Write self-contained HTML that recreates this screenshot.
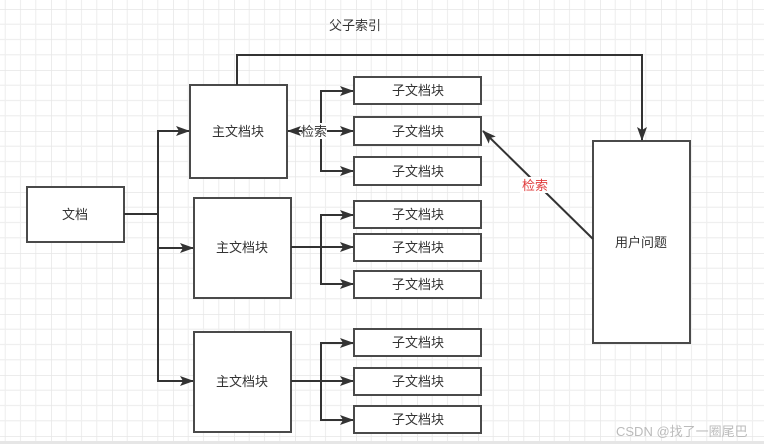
<!DOCTYPE html>
<html><head><meta charset="utf-8"><style>
html,body{margin:0;padding:0;background:#fff;}
svg{display:block;}
text{font-family:"Liberation Sans","Noto Sans CJK SC",sans-serif;font-size:13px;fill:#333;}
</style></head><body>
<svg width="764" height="444" viewBox="0 0 764 444" xmlns="http://www.w3.org/2000/svg">
<defs>
<pattern id="g" x="51" y="9" width="61" height="61" patternUnits="userSpaceOnUse">
<path d="M15.25 0V61M30.5 0V61M45.75 0V61M0 15.25H61M0 30.5H61M0 45.75H61" stroke="#efefef" stroke-width="1.2" fill="none"/>
<path d="M0 0V61M0 0H61" stroke="#e6e6e6" stroke-width="1.5" fill="none"/>
</pattern>
<marker id="a" markerWidth="14" markerHeight="10" refX="13" refY="5" orient="auto" markerUnits="userSpaceOnUse">
<path d="M0 0L14 5L0 10L3 5Z" fill="#333"/>
</marker>
</defs>
<rect width="764" height="444" fill="url(#g)"/>
<rect x="0" y="441" width="764" height="3" fill="#e6e6e6"/>
<g fill="#fff" stroke="#4a4a4a" stroke-width="2">
<rect x="27" y="187" width="97" height="55"/>
<rect x="190" y="85" width="97" height="93"/>
<rect x="194" y="198" width="97" height="100"/>
<rect x="194" y="332" width="97" height="100"/>
<rect x="354" y="77" width="127" height="27"/>
<rect x="354" y="117" width="127" height="28"/>
<rect x="354" y="157" width="127" height="28"/>
<rect x="354" y="201" width="127" height="27"/>
<rect x="354" y="234" width="127" height="27"/>
<rect x="354" y="271" width="127" height="27"/>
<rect x="354" y="329" width="127" height="27"/>
<rect x="354" y="368" width="127" height="27"/>
<rect x="354" y="406" width="127" height="27"/>
<rect x="593" y="141" width="97" height="202"/>
</g>
<g fill="none" stroke="#333" stroke-width="2">
<path d="M124 214H158"/>
<path d="M158 214V131H189" marker-end="url(#a)"/>
<path d="M158 214V248H193" marker-end="url(#a)"/>
<path d="M158 248V381H193" marker-end="url(#a)"/>
<path d="M237 85V55H642V140" marker-end="url(#a)"/>
<path d="M321 131V91H353" marker-end="url(#a)"/>
<path d="M321 131H353" marker-end="url(#a)"/>
<path d="M321 131V171H353" marker-end="url(#a)"/>
<path d="M321 131H288" marker-end="url(#a)"/>
<path d="M291 247H321"/>
<path d="M321 247V215H353" marker-end="url(#a)"/>
<path d="M321 247H353" marker-end="url(#a)"/>
<path d="M321 247V284H353" marker-end="url(#a)"/>
<path d="M291 381H321"/>
<path d="M321 381V343H353" marker-end="url(#a)"/>
<path d="M321 381H353" marker-end="url(#a)"/>
<path d="M321 381V420H353" marker-end="url(#a)"/>
<path d="M593 239L483 131" marker-end="url(#a)"/>
</g>
<rect x="302" y="123" width="25" height="16" fill="#fff"/>
<rect x="520" y="177" width="30" height="16" fill="#fff"/>
<g text-anchor="middle">
<text x="355" y="30">父子索引</text>
<text x="75" y="219">文档</text>
<text x="238" y="136">主文档块</text>
<text x="242" y="252">主文档块</text>
<text x="242" y="386">主文档块</text>
<text x="418" y="95">子文档块</text>
<text x="418" y="136">子文档块</text>
<text x="418" y="176">子文档块</text>
<text x="418" y="219">子文档块</text>
<text x="418" y="252">子文档块</text>
<text x="418" y="289">子文档块</text>
<text x="418" y="347">子文档块</text>
<text x="418" y="386">子文档块</text>
<text x="418" y="424">子文档块</text>
<text x="641" y="247">用户问题</text>
<text x="314" y="136">检索</text>
<text x="535" y="190" style="fill:#e03c3c">检索</text>
</g>
<text x="616" y="436" style="fill:#bbb;font-size:13px">CSDN @找了一圈尾巴</text>
</svg>
</body></html>
